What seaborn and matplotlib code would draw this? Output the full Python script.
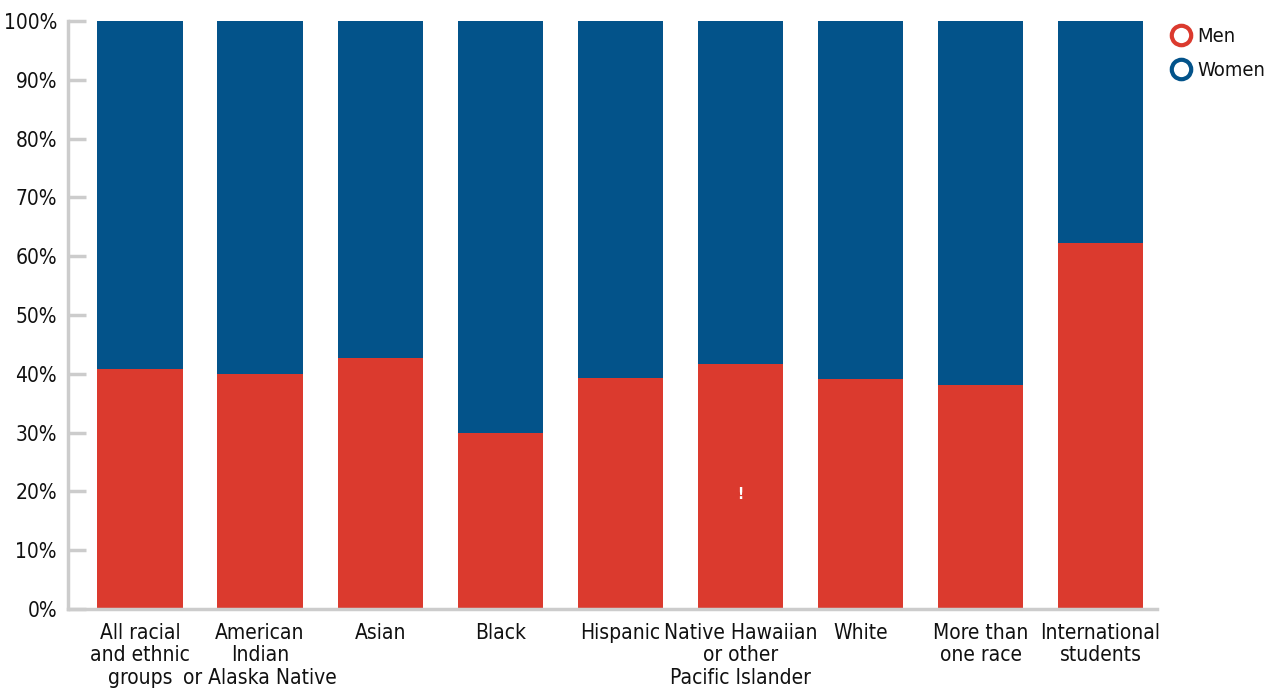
import matplotlib.pyplot as plt
import seaborn as sns
import pandas as pd
from matplotlib.lines import Line2D

groups = ["All racial\nand ethnic\ngroups", "American\nIndian\nor Alaska Native", "Asian", "Black",
          "Hispanic", "Native Hawaiian\nor other\nPacific Islander", "White", "More than\none race",
          "International\nstudents"]
men = [40.8, 40.0, 42.7, 29.9, 39.3, 41.7, 39.1, 38.1, 62.2]
women = [100 - m for m in men]

red = "#DB3A2E"
blue = "#03538A"

sns.set_style("white")
plt.rcParams['font.family'] = ['DejaVu Sans']
plt.rcParams['font.stretch'] = 'condensed'
plt.rcParams['text.color'] = '#111111'

df = pd.DataFrame({"group": groups, "men": men, "women": women})
df["total"] = df["men"] + df["women"]

fig = plt.figure(figsize=(12.65, 6.91), dpi=100)
ax = fig.add_axes([68 / 1265, 82 / 691, (1157 - 68) / 1265, (609 - 21) / 691])

sns.barplot(data=df, x="group", y="total", color=blue, width=0.71, saturation=1, linewidth=0, ax=ax)
sns.barplot(data=df, x="group", y="men", color=red, width=0.71, saturation=1, linewidth=0, ax=ax)

# footnote marker in the Native Hawaiian bar
ax.text(5, 19.5, "!", color="white", ha="center", va="center", fontsize=11, fontweight="bold")

ax.set_ylim(0, 100)
ax.set_xlim(-0.6, 8.47)
ax.set_yticks(range(0, 101, 10))
ax.set_yticklabels([f"{v}%" for v in range(0, 101, 10)], fontsize=15)
ax.set_xticklabels(groups, fontsize=15, linespacing=1.15)
ax.set_xlabel("")
ax.set_ylabel("")
for s in ["top", "right"]:
    ax.spines[s].set_visible(False)
for s in ["left", "bottom"]:
    ax.spines[s].set_color("#cccccc")
    ax.spines[s].set_linewidth(2.5)
ax.tick_params(axis="y", direction="in", length=13, width=2.5, color="#cccccc",
               labelcolor="#111111", pad=8, left=True)
ax.tick_params(axis="x", length=0, pad=10, labelcolor="#111111")
ax.set_zorder(1)

handles = [Line2D([], [], marker="o", linestyle="", markersize=14, markerfacecolor="white",
                  markeredgecolor=red, markeredgewidth=3, label="Men"),
           Line2D([], [], marker="o", linestyle="", markersize=14, markerfacecolor="white",
                  markeredgecolor=blue, markeredgewidth=3, label="Women")]
fig.legend(handles=handles, loc="upper left", bbox_to_anchor=(1162 / 1265, 1 - 17 / 691),
           frameon=False, fontsize=14.5, handletextpad=0.35, labelspacing=0.75, borderpad=0,
           handlelength=0.9)

fig.savefig("out.png", dpi=100)
